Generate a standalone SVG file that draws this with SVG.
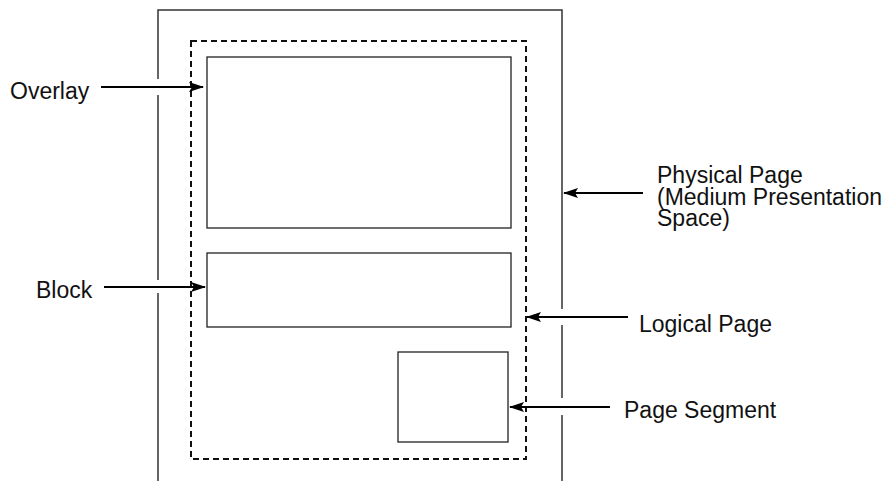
<svg xmlns="http://www.w3.org/2000/svg" width="890" height="481" viewBox="0 0 890 481">
<style>
.phys{fill:none;stroke:#333;stroke-width:1.5}
.box{fill:none;stroke:#222;stroke-width:1.3}
.dash{fill:none;stroke:#111;stroke-width:2;stroke-dasharray:6,4}
.arr{stroke:#000;stroke-width:2;fill:none;marker-end:url(#ah)}
.lbl{font-family:"Liberation Sans",Arial,sans-serif;font-size:23px;fill:#111}
</style>
<defs>
<marker id="ah" viewBox="0 0 15 10" refX="14" refY="5" markerWidth="15" markerHeight="10" markerUnits="userSpaceOnUse" orient="auto">
<path d="M0,0 L15,5 L0,10 L3,5 Z" fill="#000"/>
</marker>
</defs>
<g id="physical-page">
<path class="phys" d="M158,79 V10 H562 V481"/>
<path class="phys" d="M158,95 V280 M158,293 V481"/>
</g>
<g id="logical-page">
<rect class="dash" x="191" y="41" width="335" height="418"/>
</g>
<g id="overlay">
<rect class="box" x="207" y="57" width="304" height="171"/>
</g>
<g id="block">
<rect class="box" x="207" y="253" width="304" height="74"/>
</g>
<g id="page-segment">
<rect class="box" x="398" y="352" width="110" height="90"/>
</g>
<g id="gaps">
<rect x="561" y="309" width="3" height="16" fill="#fff"/>
<rect x="561" y="398" width="3" height="17" fill="#fff"/>
</g>
<g id="connectors">
<line class="arr" x1="101" y1="87" x2="203" y2="87"/>
<line class="arr" x1="104" y1="287" x2="205" y2="287"/>
<line class="arr" x1="643" y1="193" x2="564" y2="193"/>
<line class="arr" x1="628" y1="317" x2="527" y2="317"/>
<line class="arr" x1="610" y1="407" x2="510" y2="407"/>
</g>
<g id="labels">
<text class="lbl" x="10" y="99">Overlay</text>
<text class="lbl" x="36" y="298">Block</text>
<text class="lbl" x="657" y="183"><tspan x="657" y="183">Physical Page</tspan><tspan x="657" y="204.5">(Medium Presentation</tspan><tspan x="657" y="226">Space)</tspan></text>
<text class="lbl" x="639" y="332">Logical Page</text>
<text class="lbl" x="624" y="418">Page Segment</text>
</g>
</svg>
